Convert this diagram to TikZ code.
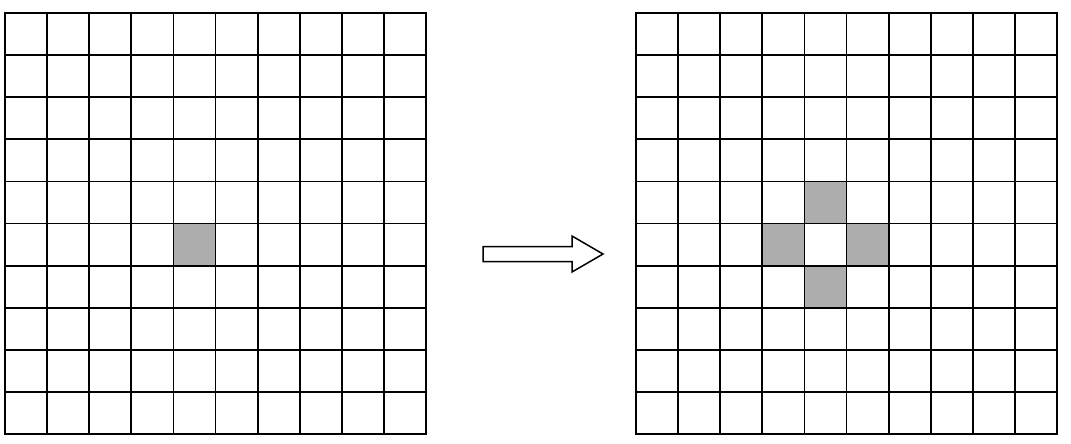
\documentclass[tikz,border=0pt]{standalone}
\usepackage{tikz}
\usetikzlibrary{calc}
\tikzset{
    gridline/.style = {line width=1.8pt, draw=black, line cap=rect},
    lit/.style = {fill=black!32},
    bigarrow/.style = {line width=1.5pt, draw=black, fill=white, line join=miter}
}
\newcommand{\cellsz}{42.1}

\begin{document}
\begin{tikzpicture}[x=1pt, y=-1pt]
        \useasboundingbox (0,0) rectangle (1071,444);

        % grid origins
        \coordinate (before) at (5,13);
        \coordinate (after) at (636,13);

        % shaded cells
        \fill[lit] ($(before)+(4*\cellsz,5*\cellsz)$) rectangle ++(\cellsz,\cellsz);
        \foreach \c/\r in {4/4, 3/5, 5/5, 4/6}
            \fill[lit] ($(after)+(\c*\cellsz,\r*\cellsz)$) rectangle ++(\cellsz,\cellsz);

        % the two grids
        \foreach \g in {before, after} {
            \foreach \i in {0,...,10} {
                \draw[gridline] ($(\g)+(\i*\cellsz,0)$) -- ++(0,10*\cellsz);
                \draw[gridline] ($(\g)+(0,\i*\cellsz)$) -- ++(10*\cellsz,0);
            }
        }

        % arrow between them
        \coordinate (tail) at (483,254);
        \coordinate (tip) at (603,254);
        \draw[bigarrow] ($(tail)+(0,-7.5)$) -- ($(tip)+(-31,-7.5)$)
            -- ($(tip)+(-31,-18)$) -- (tip) -- ($(tip)+(-31,18)$)
            -- ($(tip)+(-31,7.5)$) -- ($(tail)+(0,7.5)$) -- cycle;
    \end{tikzpicture}
\end{document}
